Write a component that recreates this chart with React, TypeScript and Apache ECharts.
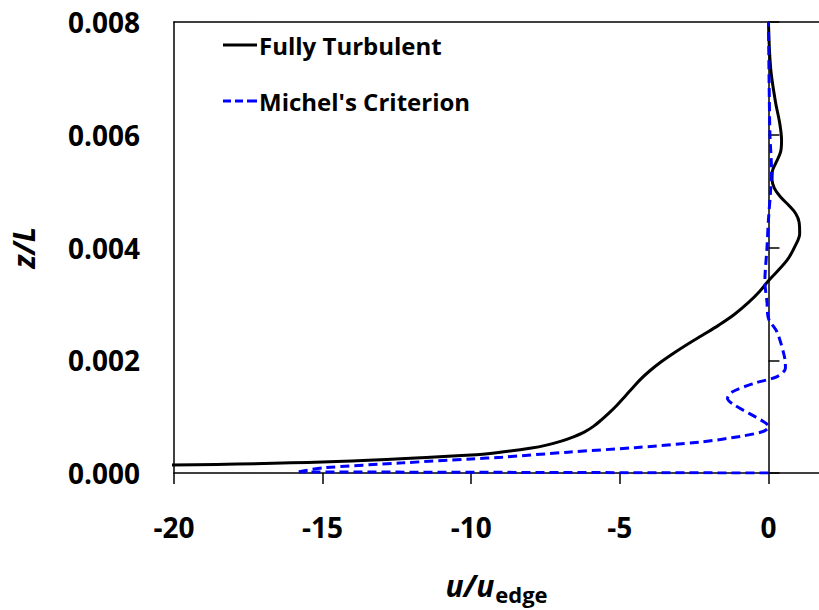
import React, { useEffect, useRef } from "react";
import * as echarts from "echarts";

// Fully Turbulent profile: height z/L and velocity u/u_edge
const turbulentZ = [
  0.000135, 0.000194, 0.000318, 0.000371, 0.000442, 0.000494, 0.000565, 0.000641, 0.000724, 0.000827,
  0.000938, 0.001065, 0.001206, 0.001362, 0.001521, 0.001669, 0.001814, 0.001969, 0.00213, 0.002289,
  0.002448, 0.002623, 0.002815, 0.003025, 0.003219, 0.00341, 0.00377, 0.00405, 0.00425, 0.00445,
  0.0046, 0.00475, 0.0049, 0.00505, 0.0052, 0.00535, 0.0055, 0.0057, 0.0059, 0.0062,
  0.0066, 0.0072, 0.008,
];
const turbulentU = [
  -21, -15.0, -10.0, -8.97, -7.97, -7.47, -6.97, -6.56, -6.2, -5.89,
  -5.63, -5.36, -5.09, -4.82, -4.55, -4.29, -3.99, -3.62, -3.18, -2.71,
  -2.21, -1.67, -1.14, -0.67, -0.3, 0, 0.62, 0.92, 1.05, 1.03,
  0.92, 0.68, 0.4, 0.2, 0.12, 0.13, 0.25, 0.41, 0.44, 0.38,
  0.23, 0.07, 0.0,
];

// Michel's Criterion profile
const michelZ = [
  0.00002, 0.00009, 0.00018, 0.00025, 0.00028, 0.00037, 0.00045, 0.00055, 0.00065, 0.00074,
  0.00082, 0.00091, 0.00121, 0.00132, 0.00144, 0.00159, 0.00171, 0.00186, 0.00203, 0.0025,
  0.00274, 0.00303, 0.0034, 0.004, 0.0045, 0.005, 0.0054, 0.006, 0.007, 0.008,
];
const michelU = [
  -15.8, -15, -12.3, -10, -8.97, -6.74, -4.5, -2.28, -0.94, -0.16,
  0.01, -0.16, -1.16, -1.38, -1.21, -0.49, 0.29, 0.57, 0.55, 0.29,
  0, -0.05, -0.12, -0.05, 0.0, 0.07, 0.1, 0.05, 0.02, 0.0,
];
// wall segment of Michel's profile (along z = 0)
const michelWallZ = [0, 0.00002];
const michelWallU = [0, -15.8];

const xTicks = [-20, -15, -10, -5, 0];

const FONT = '"Open Sans", "Noto Sans", sans-serif';

const zip = (u: number[], z: number[]) => u.map((v, i) => [v, z[i]]);

export default function App() {
  const ref = useRef<HTMLDivElement>(null);
  useEffect(() => {
    document.body.style.margin = "0";
    const chart = echarts.init(ref.current!, null, { renderer: "svg" });
    const axisLineStyle = { color: "#000", width: 1.5 };
    const blueStyle = { color: "#0000ff", width: 3, type: [9, 5] as any };
    chart.setOption({
      animation: false,
      backgroundColor: "#fff",
      grid: { left: 171, right: 0, top: 22, bottom: 135, containLabel: false },
      legend: {
        data: [
          { name: "Fully Turbulent", icon: "path://M0,0h34v3h-34z" },
          { name: "Michel's Criterion", icon: "path://M0,0h8v3h-8zM12,0h8v3h-8zM24,0h8v3h-8zM32,0h2v3h-2z" },
        ],
        orient: "vertical",
        left: 223,
        top: 33,
        padding: 0,
        itemWidth: 34,
        itemHeight: 3,
        itemGap: 32,
        selectedMode: false,
        textStyle: { fontFamily: FONT, fontSize: 24, fontWeight: "bold", color: "#000", padding: [0, 0, 0, -3] },
      },
      xAxis: [
        {
          type: "value",
          min: -20,
          max: 1.7,
          interval: 5,
          axisLine: { show: true, lineStyle: axisLineStyle },
          axisTick: { show: true, length: 11, lineStyle: axisLineStyle, customValues: xTicks },
          axisLabel: {
            customValues: xTicks,
            margin: 40,
            fontFamily: FONT,
            fontSize: 28,
            fontWeight: "bold",
            color: "#000",
            formatter: (v: number) => (xTicks.includes(v) ? String(v) : ""),
          },
          splitLine: { show: false },
          name: "{i|u/u}{s|edge}",
          nameLocation: "middle",
          nameGap: 92,
          nameTextStyle: {
            rich: {
              i: { fontFamily: FONT, fontSize: 30, fontWeight: "bold", fontStyle: "italic", color: "#000" },
              s: { fontFamily: FONT, fontSize: 22, fontWeight: "bold", color: "#000", padding: [18, 0, 0, 1] },
            },
          },
        },
        {
          type: "value",
          position: "top",
          min: -20,
          max: 1.7,
          interval: 5,
          axisLine: { show: true, onZero: false, lineStyle: axisLineStyle },
          axisTick: { show: false },
          axisLabel: { show: false },
          splitLine: { show: false },
        },
      ],
      yAxis: [
        {
          type: "value",
          min: 0,
          max: 0.008,
          interval: 0.002,
          axisLine: { show: true, onZero: false, lineStyle: axisLineStyle },
          axisTick: { show: false },
          axisLabel: {
            margin: 34,
            fontFamily: FONT,
            fontSize: 28,
            fontWeight: "bold",
            color: "#000",
            formatter: (v: number) => v.toFixed(3),
          },
          splitLine: { show: false },
          name: "z/L",
          nameLocation: "middle",
          nameRotate: 90,
          nameGap: 136,
          nameTextStyle: { fontFamily: FONT, fontSize: 30, fontWeight: "bold", fontStyle: "italic", color: "#000" },
        },
        {
          type: "value",
          min: 0,
          max: 0.008,
          interval: 0.002,
          axisLine: { show: true, onZero: true, onZeroAxisIndex: 0, lineStyle: axisLineStyle },
          axisTick: { show: true, length: 11, lineStyle: axisLineStyle },
          axisLabel: { show: false },
          splitLine: { show: false },
        },
      ],
      series: [
        {
          type: "line",
          name: "Fully Turbulent",
          data: zip(turbulentU, turbulentZ),
          showSymbol: false,
          symbol: "none",
          smooth: 0.35,
          clip: true,
          lineStyle: { color: "#000", width: 3 },
          itemStyle: { color: "#000" },
          z: 3,
        },
        {
          type: "line",
          name: "Michel's Criterion",
          data: zip(michelU, michelZ),
          showSymbol: false,
          symbol: "none",
          smooth: 0.3,
          clip: true,
          lineStyle: blueStyle,
          itemStyle: { color: "#0000ff" },
          z: 4,
        },
        {
          type: "line",
          name: "Michel's Criterion",
          data: zip(michelWallU, michelWallZ),
          showSymbol: false,
          symbol: "none",
          clip: true,
          lineStyle: blueStyle,
          itemStyle: { color: "#0000ff" },
          z: 4,
        },
      ],
    });
    return () => chart.dispose();
  }, []);
  return <div ref={ref} style={{ width: 819, height: 610, position: "absolute", left: 0, top: 0 }} />;
}
